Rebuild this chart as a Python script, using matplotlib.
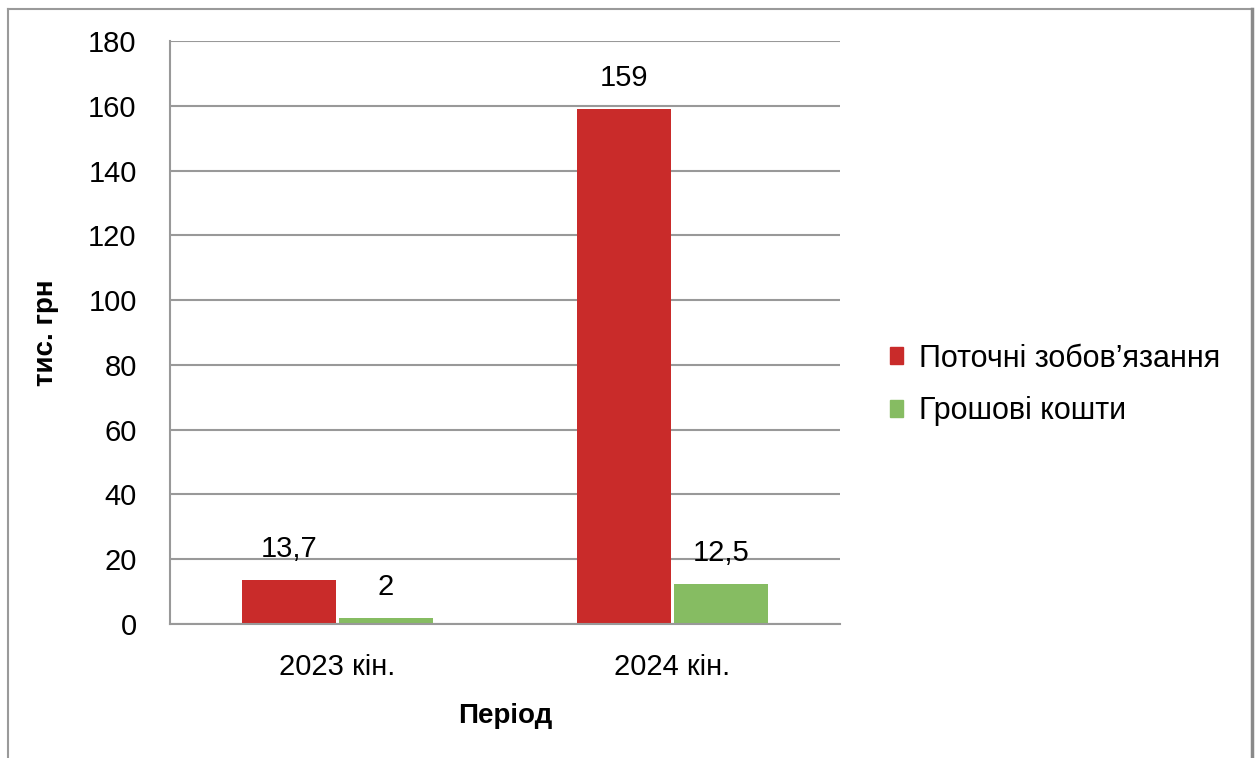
import matplotlib.pyplot as plt
import numpy as np
from matplotlib.lines import Line2D

plt.rcParams['font.family'] = ['Liberation Sans', 'DejaVu Sans']

# data
periods = ['2023 кін.', '2024 кін.']
series_names = ['Поточні зобов’язання', 'Грошові кошти']
liabilities = [13.7, 159]
cash = [2, 12.5]
liabilities_labels = ['13,7', '159']
cash_labels = ['2', '12,5']
y_ticks = [0, 20, 40, 60, 80, 100, 120, 140, 160, 180]

red = '#C92B2A'
green = '#86BC62'
grid_gray = '#999999'

fig = plt.figure(figsize=(12.56, 7.58), dpi=100)
W, H = 1256, 758
ax = fig.add_axes([170 / W, 1 - 624 / H, 670 / W, 583 / H])

x = np.arange(len(periods))
width = 0.28
off = 0.145
b1 = ax.bar(x - off, liabilities, width, color=red, label=series_names[0])
b2 = ax.bar(x + off, cash, width, color=green, label=series_names[1])

# value labels above the bars
for bars, labels in [(b1, liabilities_labels), (b2, cash_labels)]:
    for rect, lab in zip(bars, labels):
        ax.annotate(lab, (rect.get_x() + rect.get_width() / 2, rect.get_height()),
                    xytext=(0, 22), textcoords='offset points',
                    ha='center', va='center', fontsize=21)

ax.set_xlim(-0.5, 1.5)
ax.set_ylim(0, 180)
ax.set_yticks(y_ticks)
ax.set_xticks(x)
ax.set_xticklabels(periods)
ax.tick_params(axis='both', length=0, labelsize=21)
ax.tick_params(axis='y', pad=24)
ax.tick_params(axis='x', pad=21)

ax.yaxis.grid(True, color=grid_gray, linewidth=1.5)
ax.set_axisbelow(True)
for s in ['top', 'right']:
    ax.spines[s].set_visible(False)
for s in ['left', 'bottom']:
    ax.spines[s].set_color(grid_gray)
    ax.spines[s].set_linewidth(1.5)

ax.set_xlabel('Період', fontsize=20, fontweight='bold', labelpad=16)
ax.set_ylabel('тис. грн', fontsize=20, fontweight='bold', labelpad=21)

handles = [plt.Rectangle((0, 0), 1, 1, color=red), plt.Rectangle((0, 0), 1, 1, color=green)]
fig.legend(handles, series_names, loc='center left', bbox_to_anchor=(862 / W, 1 - 385 / H),
           frameon=False, fontsize=22, handlelength=0.45, handleheight=0.45,
           handletextpad=0.5, labelspacing=0.75)

# outer chart border (bottom edge is cut off in the reference)
fig.add_artist(Line2D([8 / W, 8 / W], [0, 1 - 9 / H], transform=fig.transFigure,
                      color='#9a9a9a', linewidth=1.5))
fig.add_artist(Line2D([8 / W, 1252 / W], [1 - 9 / H, 1 - 9 / H], transform=fig.transFigure,
                      color='#9a9a9a', linewidth=1.5))
fig.add_artist(Line2D([1252 / W, 1252 / W], [0, 1 - 9 / H], transform=fig.transFigure,
                      color='#8a8a8a', linewidth=2.5))

fig.savefig('out.png', dpi=100)
